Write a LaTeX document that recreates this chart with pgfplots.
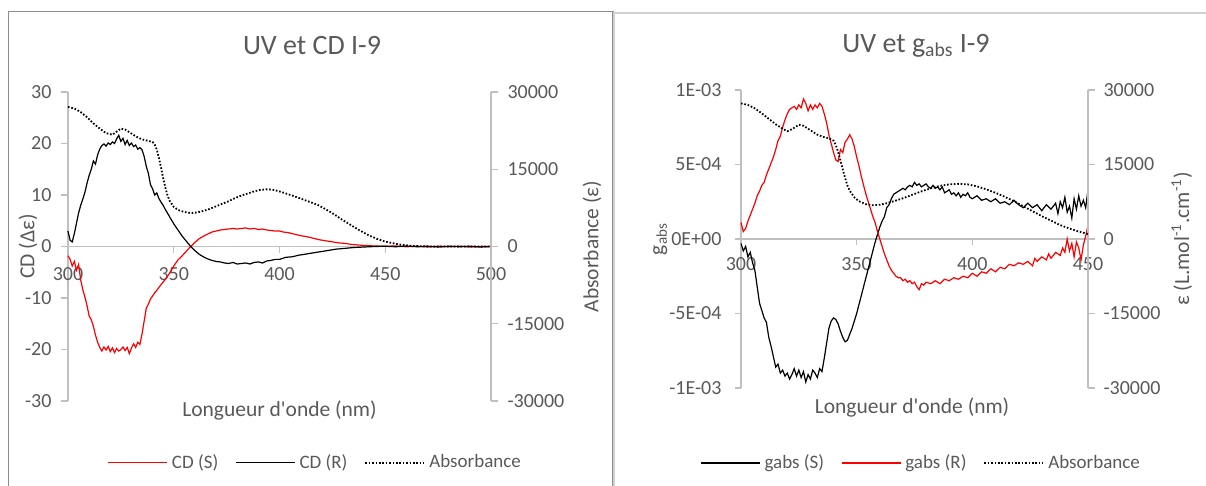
\documentclass[border=0pt]{standalone}
\usepackage{fontspec}
\setmainfont{Carlito}[Ligatures=TeXOff]
\usepackage{pgfplots}
\pgfplotsset{compat=1.18}
\definecolor{txt}{HTML}{595959}
\definecolor{axg}{HTML}{BFBFBF}
\definecolor{frameL}{HTML}{8C8C8C}
\definecolor{frameR}{HTML}{D0D0D0}
\pgfplotsset{
  common/.style={scale only axis, xmin=300,
    tick style={axg, line width=0.6pt}, major tick length=3.25pt, tick align=outside,
    ticklabel style={font=\fontsize{10}{12}\selectfont, text=txt},
    axis line style={-, draw=axg, line width=0.6pt},
    /pgf/number format/assume math mode=true,
    scaled y ticks=false, scaled x ticks=false,
    hide obscured x ticks=false, hide obscured y ticks=false,
    clip=false,
  },
  lg/.style={legend style={draw=none, fill=none, legend columns=3,
      font=\fontsize{9.5}{11}\selectfont, text=txt,
      /tikz/every even column/.append style={column sep=6.5pt},
      /tikz/every odd column/.append style={column sep=0pt}},
    legend cell align=left,
    legend image code/.code={\draw[##1] (0pt,0pt) -- (29.5pt,0pt);}},
  redl/.style={red, line width=0.6pt},
  blkl/.style={black, line width=0.6pt},
  dotl/.style={black, line width=0.9pt, dash pattern=on 0.8pt off 0.9pt},
}
\begin{document}
\begin{tikzpicture}
\useasboundingbox (0,0) rectangle (603pt,243pt);
\draw[frameL, line width=0.6pt] (4.25pt,-5pt) -- (4.25pt,237.25pt) -- (306.5pt,237.25pt) -- (306.5pt,-5pt);
\draw[frameR, line width=0.6pt] (307pt,-5pt) -- (307pt,236.5pt) -- (610pt,236.5pt);
\node[font=\fontsize{14}{17}\selectfont, text=txt] at (156pt,220pt) {UV et CD I-9};
\node[font=\fontsize{14}{17}\selectfont, text=txt] at (458pt,220pt) {UV et g\textsubscript{abs} I-9};

% ---------------- left chart ----------------
\begin{axis}[common, lg, at={(34pt,42.5pt)}, anchor=south west, width=211.5pt, height=154.5pt,
  xmax=500, ymin=-30, ymax=30,
  axis x line*=middle, axis y line*=left,
  xtick={300,350,400,450,500}, xticklabels={300,350,400,450,500},
  ytick={-30,-20,-10,0,10,20,30}, yticklabels={-30,-20,-10,0,10,20,30},
  xticklabel style={yshift=-3.5pt},
  yticklabel style={xshift=-1.5pt},
  xlabel={Longueur d'onde (nm)}, ylabel={CD (Δε)},
  xlabel style={at={(rel axis cs:0.5,-0.03)}, anchor=center, font=\fontsize{10.75}{13}\selectfont, text=txt},
  ylabel style={at={(rel axis cs:-0.0946,0.5)}, anchor=center, rotate=0, font=\fontsize{10.75}{13}\selectfont, text=txt},
  legend style={at={(0.587,-0.2)}, anchor=center},
]
\addplot[redl] coordinates {
(300,-1.8)(301,-2.5)(302,-3.8)(303,-2.9)(304,-4.6)(305,-3.5)(306,-6.5)(307,-8.4)(308,-9.8)(309,-11.5)
(310,-13.5)(311,-14.2)(312,-15.5)(313,-17.2)(314,-18.6)(315,-19.6)(316,-20.3)(317,-19.5)(318,-20.1)(319,-19.4)
(320,-20.4)(321,-19.7)(322,-20.6)(323,-19.8)(324,-20.3)(325,-20.0)(326,-19.5)(327,-20.2)(328,-19.6)(329,-20.8)
(330,-19.7)(331,-18.9)(332,-19.6)(333,-18.6)(334,-19.0)(335,-17.0)(336,-14.5)(337,-12.0)(338,-11.2)(339,-10.2)
(340,-9.6)(341,-9.0)(342,-8.5)(344,-7.4)(346,-6.4)(348,-5.2)(350,-3.8)(352,-2.6)(354,-1.8)(356,-0.9)
(358,0.0)(360,0.8)(362,1.5)(364,2.0)(366,2.4)(368,2.8)(370,3.0)(372,3.2)(374,3.3)(376,3.4)
(378,3.5)(380,3.4)(382,3.5)(384,3.6)(386,3.4)(388,3.5)(390,3.3)(392,3.4)(394,3.2)(396,3.1)
(398,3.0)(400,3.0)(402,2.8)(404,2.7)(406,2.5)(408,2.3)(410,2.1)(413,1.9)(416,1.6)(419,1.3)
(422,1.1)(425,0.9)(428,0.7)(431,0.6)(434,0.4)(437,0.3)(440,0.2)(445,0.1)(450,0.05)(455,0.1)
(460,-0.05)(465,0.05)(470,-0.1)(475,0.05)(480,-0.05)(485,0.05)(490,-0.1)(495,0.0)(500,0.0)};
\addlegendentry{CD (S)}
\addplot[blkl] coordinates {
(300,3.0)(301,1.2)(302,0.9)(303,2.5)(304,4.5)(305,6.5)(306,8.0)(307,9.2)(308,10.5)(309,12.3)
(310,13.8)(311,15.0)(312,16.6)(313,16.0)(314,17.8)(315,18.9)(316,19.6)(317,19.9)(318,19.5)(319,20.1)
(320,19.8)(321,20.3)(322,20.0)(323,20.9)(324,21.6)(325,20.4)(326,21.0)(327,19.8)(328,20.6)(329,19.6)
(330,20.1)(331,19.4)(332,19.7)(333,18.9)(334,19.2)(335,18.8)(336,17.5)(337,15.6)(338,14.2)(339,12.0)
(340,11.2)(341,10.0)(342,10.4)(343,9.3)(344,8.6)(345,8.0)(346,7.2)(348,5.8)(350,4.4)(352,3.2)
(354,2.0)(356,1.0)(358,0.0)(360,-0.8)(362,-1.5)(364,-2.0)(366,-2.4)(368,-2.7)(370,-2.9)(372,-3.0)
(374,-3.2)(376,-3.3)(378,-3.1)(380,-3.4)(382,-3.3)(384,-3.2)(386,-3.4)(388,-3.1)(390,-3.0)(392,-3.2)
(394,-2.8)(396,-2.7)(398,-2.5)(400,-2.5)(403,-2.1)(406,-2.0)(409,-1.7)(412,-1.5)(415,-1.3)(418,-1.1)
(421,-0.9)(424,-0.7)(427,-0.5)(430,-0.4)(435,-0.2)(440,-0.1)(445,0.0)(450,0.05)(455,-0.05)(460,0.1)
(465,-0.05)(470,0.05)(475,-0.1)(480,0.05)(485,-0.05)(490,0.05)(495,-0.1)(500,0.0)};
\addlegendentry{CD (R)}
\addlegendimage{dotl}
\addlegendentry{Absorbance}
\end{axis}
\begin{axis}[common, at={(34pt,42.5pt)}, anchor=south west, width=211.5pt, height=154.5pt,
  xmax=500, ymin=-30000, ymax=30000,
  axis x line=none, axis y line*=right,
  ytick={-30000,-15000,0,15000,30000}, yticklabels={-30000,-15000,0,15000,30000},
  yticklabel style={xshift=1.5pt},
  ylabel={Absorbance (ε)},
  ylabel style={at={(rel axis cs:1.239,0.5)}, anchor=center, rotate=0, font=\fontsize{10.75}{13}\selectfont, text=txt},
]
\addplot[dotl] coordinates {
(300,27100)(303,26800)(306,26100)(309,25100)(312,23900)(315,22900)(318,22000)(321,21700)(323,22300)(325,22900)
(327,22700)(329,22200)(332,21400)(335,20800)(338,20500)(340,20300)(341,19800)(342,18800)(343,17200)(344,15300)
(345,13300)(346,11500)(347,10000)(348,8900)(350,7700)(352,7100)(355,6700)(358,6500)(361,6600)(364,6900)
(367,7300)(370,7800)(373,8300)(376,8800)(379,9400)(382,9900)(385,10300)(388,10700)(391,11000)(394,11100)
(397,11000)(400,10700)(403,10300)(406,9900)(410,9300)(414,8700)(418,8100)(422,7200)(426,6200)(430,5100)
(434,4100)(438,3100)(442,2200)(446,1500)(450,950)(454,600)(458,300)(462,150)(466,60)(470,20)(480,0)(500,0)};
\end{axis}

% ---------------- right chart ----------------
\begin{axis}[common, lg, at={(370.5pt,49pt)}, anchor=south west, width=173.5pt, height=149pt,
  xmax=450, ymin=-10, ymax=10,
  axis x line*=middle, axis y line*=left,
  xtick={300,350,400,450}, xticklabels={300,350,400,450},
  ytick={-10,-5,0,5,10}, yticklabels={-1E-03,-5E-04,0E+00,5E-04,1E-03},
  xticklabel style={yshift=-2.5pt},
  yticklabel style={xshift=-3pt},
  xlabel={Longueur d'onde (nm)}, ylabel={g\textsubscript{abs}},
  xlabel style={at={(rel axis cs:0.493,-0.064)}, anchor=center, font=\fontsize{10.75}{13}\selectfont, text=txt},
  ylabel style={at={(rel axis cs:-0.233,0.5)}, anchor=center, rotate=0, font=\fontsize{10.75}{13}\selectfont, text=txt},
  legend style={at={(0.522,-0.252)}, anchor=center},
]
\addplot[blkl] coordinates {
(300,-0.3)(301,-0.8)(302,-0.5)(303,-1.2)(304,-0.9)(305,-1.6)(306,-2.1)(307,-3.2)(308,-4.3)(309,-4.8)
(310,-5.3)(311,-5.6)(312,-6.6)(313,-7.2)(314,-7.9)(315,-8.6)(316,-8.4)(317,-9.0)(318,-8.8)(319,-9.2)
(320,-9.0)(321,-9.4)(322,-9.1)(323,-8.7)(324,-9.2)(325,-8.8)(326,-9.3)(327,-8.9)(328,-9.6)(329,-9.1)
(330,-9.4)(331,-8.8)(332,-9.0)(333,-9.3)(334,-8.7)(335,-8.9)(336,-8.0)(337,-7.0)(338,-6.0)(339,-5.5)
(340,-5.3)(341,-5.4)(342,-5.7)(343,-6.2)(344,-6.6)(345,-6.9)(346,-6.8)(347,-6.4)(348,-6.0)(349,-5.5)
(350,-5.0)(351,-4.4)(352,-3.8)(353,-3.2)(354,-2.6)(355,-2.0)(356,-1.4)(357,-0.8)(358,-0.2)(359,0.3)
(360,0.8)(361,1.2)(362,1.5)(363,2.1)(364,2.3)(365,2.7)(366,3.0)(367,3.1)(368,3.2)(369,3.3)
(370,3.4)(371,3.3)(372,3.5)(373,3.6)(374,3.5)(375,3.8)(376,3.6)(377,3.7)(378,3.5)(379,3.6)
(380,3.7)(381,3.5)(382,3.4)(383,3.6)(384,3.4)(385,3.5)(386,3.3)(387,3.5)(388,3.1)(389,3.2)
(390,3.3)(391,3.0)(392,3.1)(393,2.9)(394,3.1)(395,2.8)(396,3.0)(397,2.9)(398,3.1)(399,2.8)
(400,2.7)(402,2.9)(404,2.6)(406,2.7)(408,2.5)(410,2.7)(412,2.4)(414,2.5)(416,2.3)(418,2.6)
(420,2.3)(422,2.1)(424,2.4)(426,2.1)(428,2.3)(430,1.9)(432,2.3)(434,2.0)(436,2.4)(437,1.7)
(438,2.5)(439,2.1)(440,2.8)(441,1.8)(442,2.2)(443,1.4)(444,2.7)(445,2.0)(446,2.9)(447,2.2)
(448,2.6)(449,2.1)(450,3.3)};
\addlegendentry{gabs (S)}
\addplot[redl] coordinates {
(300,1.1)(301,0.5)(302,0.7)(303,1.2)(304,1.6)(305,2.0)(306,2.4)(307,2.9)(308,3.2)(309,3.6)
(310,3.8)(311,4.3)(312,4.7)(313,5.1)(314,5.5)(315,6.0)(316,6.6)(317,6.9)(318,7.5)(319,8.0)
(320,8.4)(321,8.7)(322,8.8)(323,8.9)(324,8.7)(325,9.0)(326,8.8)(327,9.4)(328,9.1)(329,8.6)
(330,9.0)(331,8.7)(332,9.0)(333,8.8)(334,9.1)(335,8.9)(336,8.4)(337,7.8)(338,7.0)(339,6.4)
(340,5.8)(341,5.3)(342,5.2)(343,6.0)(344,5.8)(345,6.5)(346,6.7)(347,7.0)(348,6.7)(349,6.2)
(350,5.5)(351,4.9)(352,4.2)(353,3.6)(354,3.0)(355,2.5)(356,2.0)(357,1.5)(358,1.1)(359,0.5)
(360,0.0)(361,-0.5)(362,-1.0)(363,-1.4)(364,-1.8)(365,-2.1)(366,-2.3)(367,-2.5)(368,-2.6)(369,-2.6)
(370,-2.8)(371,-2.7)(372,-2.9)(373,-2.8)(374,-3.0)(375,-2.9)(376,-3.2)(377,-3.4)(378,-3.0)(379,-3.1)
(380,-2.9)(382,-3.0)(384,-2.8)(386,-3.0)(388,-2.7)(390,-2.8)(392,-2.6)(394,-2.7)(396,-2.5)(398,-2.6)
(400,-2.3)(402,-2.5)(404,-2.2)(406,-2.3)(408,-2.0)(410,-2.2)(412,-1.9)(414,-2.0)(416,-1.7)(418,-1.8)
(420,-1.6)(422,-1.7)(424,-1.5)(426,-1.8)(427,-1.3)(428,-1.5)(430,-1.2)(432,-1.4)(433,-1.0)(434,-1.3)
(436,-0.9)(438,-1.1)(439,-0.6)(440,-0.9)(441,0.0)(442,-0.8)(443,-0.3)(444,-1.2)(445,-0.2)(446,-0.6)
(447,-1.4)(448,-0.4)(449,0.2)(450,0.9)};
\addlegendentry{gabs (R)}
\addlegendimage{dotl}
\addlegendentry{Absorbance}
\end{axis}
\begin{axis}[common, at={(370.5pt,49pt)}, anchor=south west, width=173.5pt, height=149pt,
  xmax=450, ymin=-30000, ymax=30000,
  axis x line=none, axis y line*=right,
  ytick={-30000,-15000,0,15000,30000}, yticklabels={-30000,-15000,0,15000,30000},
  yticklabel style={xshift=1pt},
  ylabel={ε (L.mol\textsuperscript{-1}.cm\textsuperscript{-1})},
  ylabel style={at={(rel axis cs:1.27,0.5)}, anchor=center, rotate=0, font=\fontsize{10.75}{13}\selectfont, text=txt},
]
\addplot[dotl] coordinates {
(300,27300)(303,27000)(306,26300)(309,25300)(312,24200)(315,23100)(318,22200)(320,21700)(322,22100)(325,23000)
(327,22800)(330,21900)(333,21000)(336,20500)(338,20300)(340,19800)(341,18900)(342,17500)(343,15800)(344,14000)
(345,12300)(346,10800)(347,9700)(349,8400)(351,7600)(354,7000)(357,6800)(360,6900)(363,7200)(366,7600)
(370,8200)(374,8900)(378,9600)(382,10200)(386,10700)(390,11000)(394,11100)(398,11000)(402,10600)(406,10000)
(410,9300)(414,8500)(418,7600)(422,6600)(426,5600)(430,4600)(434,3700)(438,2800)(442,2100)(446,1500)(450,1000)};
\end{axis}
\end{tikzpicture}
\end{document}
